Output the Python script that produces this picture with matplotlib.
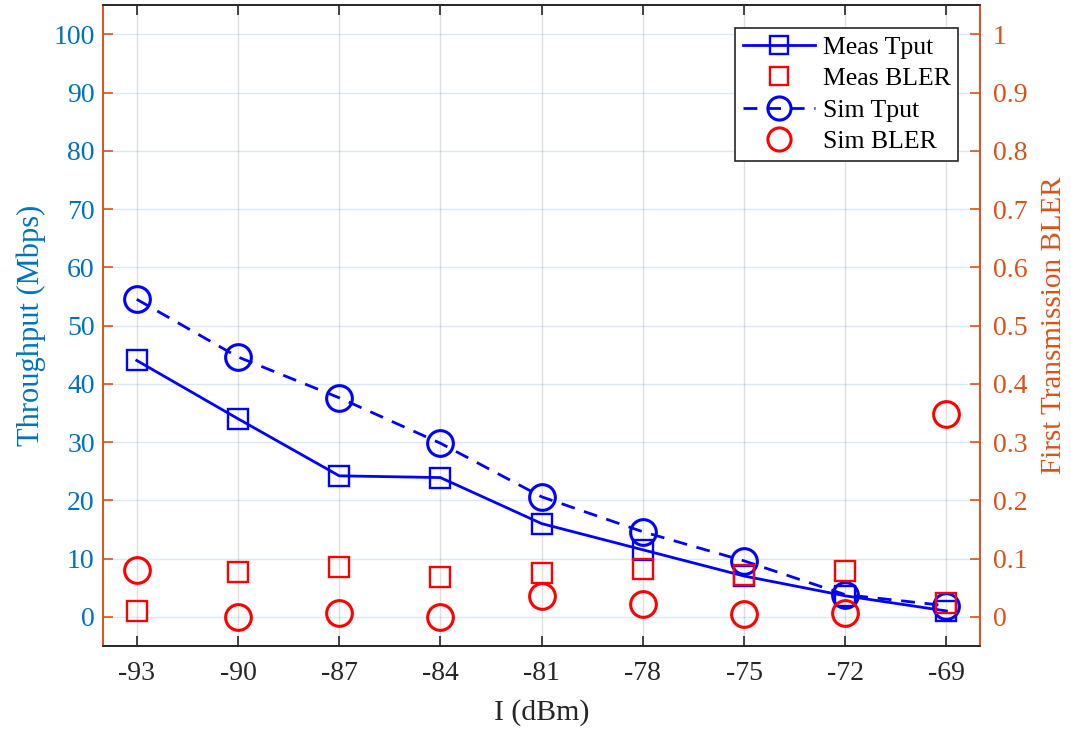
import matplotlib
matplotlib.use("Agg")
import matplotlib.pyplot as plt
from matplotlib.ticker import FixedLocator, FuncFormatter

# Interference level (dBm)
interference = [-93, -90, -87, -84, -81, -78, -75, -72, -69]

# Throughput (Mbps)
meas_tput = [44, 34, 24.2, 23.9, 16, 11.5, 7, 3.6, 1]
sim_tput = [54.5, 44.6, 37.6, 29.8, 20.6, 14.6, 9.6, 3.8, 1.9]

# First transmission BLER
meas_bler = [0.010, 0.077, 0.086, 0.069, 0.075, 0.082, 0.072, 0.079, 0.024]
sim_bler = [0.081, 0.000, 0.006, 0.000, 0.036, 0.022, 0.004, 0.006, 0.348]

left_ticks = list(range(0, 101, 10))
right_ticks = [i / 10 for i in range(0, 11)]

BLUE_AX = "#0072BD"
ORANGE_AX = "#D95319"
DARK = "#262626"

plt.rcParams["font.family"] = ["Liberation Serif", "DejaVu Serif"]

fig = plt.figure(figsize=(10.71, 7.34), dpi=100)
ax = fig.add_axes([0.0962, 0.12, 0.819, 0.873])
ax2 = ax.twinx()

ms_sq = 14
ms_ci = 18.5
lw = 2.0

h1, = ax.plot(interference, meas_tput, "-", color="#0000FF", lw=lw,
              marker="s", ms=ms_sq, mfc="none", mec="#0000FF", mew=1.7,
              label="Meas Tput")
h3, = ax.plot(interference, sim_tput, "--", color="#0000FF", lw=lw,
              dashes=(5, 3.5), marker="o", ms=ms_ci, mfc="none",
              mec="#0000FF", mew=2.2, label="Sim Tput")
h2, = ax2.plot(interference, meas_bler, ls="none", marker="s", ms=ms_sq,
               mfc="none", mec="#FF0000", mew=1.7, label="Meas BLER")
h4, = ax2.plot(interference, sim_bler, ls="none", marker="o", ms=ms_ci,
               mfc="none", mec="#FF0000", mew=2.2, label="Sim BLER")

ax.set_xlim(-94, -68)
ax.set_ylim(-5, 105)
ax2.set_ylim(-0.05, 1.05)

ax.set_xticks(interference)
ax.set_xticklabels([str(v) for v in interference])
ax.yaxis.set_major_locator(FixedLocator(left_ticks))
ax2.yaxis.set_major_locator(FixedLocator(right_ticks))
ax2.yaxis.set_major_formatter(FuncFormatter(lambda v, p: f"{v:g}"))

# grid: vertical grey, horizontal light blue
ax.grid(axis="x", color="#808080", alpha=0.25, lw=1)
ax.grid(axis="y", color=BLUE_AX, alpha=0.15, lw=1)
ax.set_axisbelow(True)

for a in (ax, ax2):
    a.spines["top"].set_color(DARK)
    a.spines["bottom"].set_color(DARK)
    a.spines["left"].set_color(ORANGE_AX)
    a.spines["right"].set_color(ORANGE_AX)
    for s in a.spines.values():
        s.set_linewidth(1.2)

ax.tick_params(axis="x", direction="in", top=True, length=7, width=1.2,
               color=DARK, labelcolor=DARK, labelsize=20, pad=11)
ax.tick_params(axis="y", direction="in", length=7, width=1.2,
               color=ORANGE_AX, labelcolor=BLUE_AX, labelsize=20, pad=6)
ax2.tick_params(axis="y", direction="in", length=7, width=1.2,
                color=ORANGE_AX, labelcolor=ORANGE_AX, labelsize=20, pad=9)

ax.set_xlabel("I (dBm)", fontsize=21.5, color=DARK, labelpad=9)
ax.set_ylabel("Throughput (Mbps)", fontsize=22, color=BLUE_AX, labelpad=5)
ax2.set_ylabel("First Transmission BLER", fontsize=21, color=ORANGE_AX,
               labelpad=10)

leg = ax2.legend([h1, h2, h3, h4],
                 ["Meas Tput", "Meas BLER", "Sim Tput", "Sim BLER"],
                 loc="upper right", bbox_to_anchor=(0.975, 0.964),
                 borderaxespad=0, fontsize=18.5, frameon=True,
                 fancybox=False, framealpha=1, edgecolor=DARK,
                 handlelength=2.8, handletextpad=0.3, borderpad=0.3,
                 labelspacing=0.33, markerscale=0.9)
leg.get_frame().set_linewidth(1.2)

fig.savefig("out.png", dpi=100)
